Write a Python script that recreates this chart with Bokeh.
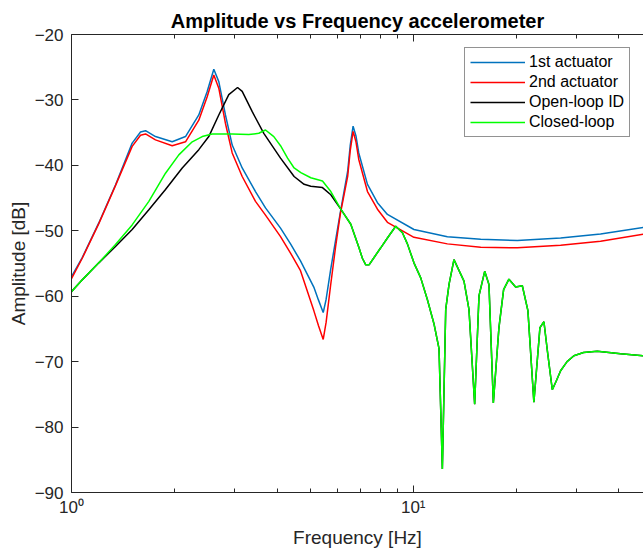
from bokeh.plotting import figure
from bokeh.models import FixedTicker, LogAxis, Legend, LegendItem
from bokeh.embed import file_html
from bokeh.resources import INLINE

# ---- data ----
freq_act = [1.0, 1.075, 1.202, 1.345, 1.505, 1.592, 1.647, 1.761, 1.971, 2.156,
            2.358, 2.495, 2.609, 2.698, 2.822, 2.953, 3.159, 3.455, 3.696, 4.09,
            4.375, 4.679, 5.118, 5.283, 5.453, 5.56, 5.73, 5.925, 6.12, 6.43,
            6.54, 6.669, 6.80, 6.929, 7.348, 7.859, 8.405, 10.05, 12.59, 15.76,
            20.17, 27.0, 35.34, 47.21, 50.0]
act1_db = [-57.0, -54.1, -48.8, -43.0, -36.6, -34.9, -34.7, -35.6, -36.4, -35.6,
           -32.3, -28.7, -25.3, -27.2, -32.3, -36.9, -40.4, -44.0, -46.5, -49.6,
           -52.0, -54.6, -58.6, -60.6, -62.5, -60.5, -56.0, -51.5, -47.2, -40.9,
           -37.0, -34.0, -35.5, -38.1, -42.9, -45.7, -47.5, -49.8, -50.9, -51.3,
           -51.5, -51.1, -50.5, -49.5, -49.3]
act2_db = [-57.3, -54.2, -48.9, -43.1, -37.1, -35.4, -35.2, -36.1, -37.0, -36.4,
           -33.1, -29.5, -26.2, -28.2, -33.6, -38.1, -41.7, -45.5, -47.6, -50.9,
           -53.4, -56.1, -62.2, -64.5, -66.6, -64.0, -58.4, -52.5, -47.4, -41.7,
           -37.8, -34.8, -36.4, -39.1, -44.0, -46.7, -48.7, -51.0, -52.0, -52.5,
           -52.6, -52.2, -51.6, -50.5, -50.3]

freq_ol = [1.0, 1.075, 1.202, 1.345, 1.505, 1.684, 1.884, 2.109, 2.358, 2.522,
           2.698, 2.886, 3.062, 3.159, 3.380, 3.654, 4.09, 4.482, 4.794, 5.015,
           5.426, 5.740, 6.138, 6.567, 6.94, 7.10, 7.264, 7.427, 7.70, 8.035,
           8.405, 8.887, 9.30, 9.616, 10.05, 10.52, 11.0, 11.50, 11.90, 12.17,
           12.45, 12.73, 13.16, 14.08, 14.56, 15.13, 15.58, 16.19, 16.66, 17.16,
           17.82, 18.39, 19.06, 19.94, 20.86, 21.66, 22.55, 23.49, 24.13, 24.69,
           25.53, 26.2, 27.0, 28.2, 29.53, 31.5, 34.56, 40.44, 47.21, 50.0]
ol_db = [-59.3, -57.5, -54.9, -52.4, -49.8, -46.8, -43.7, -40.4, -37.6, -35.6,
         -32.3, -29.2, -28.1, -28.7, -31.8, -35.1, -38.9, -41.7, -42.9, -43.2,
         -43.4, -44.5, -46.7, -49.0, -52.6, -54.2, -55.2, -55.2, -54.0, -52.6,
         -51.1, -49.3, -50.3, -52.0, -54.9, -57.2, -60.5, -64.2, -68.0, -86.4,
         -62.0, -58.2, -54.4, -57.7, -62.0, -76.5, -59.9, -56.2, -58.2, -76.3,
         -64.8, -59.0, -57.4, -58.6, -58.4, -62.2, -76.2, -64.8, -63.9, -68.3,
         -74.3, -73.0, -71.4, -70.0, -69.1, -68.6, -68.4, -68.8, -69.1, -69.2]

freq_cl_low = [1.0, 1.075, 1.202, 1.345, 1.505, 1.684, 1.884, 2.061, 2.256, 2.413,
               2.580, 2.953, 3.303, 3.533, 3.696, 3.909, 4.09, 4.289, 4.482, 4.69,
               5.015, 5.426, 5.740]
cl_low_db = [-59.3, -57.5, -54.9, -52.1, -49.1, -45.5, -41.2, -38.4, -36.4, -35.6,
             -35.2, -35.2, -35.3, -35.1, -34.6, -35.6, -37.0, -38.9, -40.4, -41.1,
             -41.9, -42.4, -44.0]
join_hz = 6.0  # above this frequency the closed-loop curve follows the open-loop ID
freq_cl = freq_cl_low + [f for f in freq_ol if f > join_hz]
cl_db = cl_low_db + [d for f, d in zip(freq_ol, ol_db) if f > join_hz]

series_names = ["1st actuator", "2nd actuator", "Open-loop ID", "Closed-loop"]
series_colors = ["#0072BD", "#FF0000", "#000000", "#00FF00"]

x_major = [1, 10]
x_minor = [2, 3, 4, 5, 6, 7, 8, 9, 20, 30, 40]
x_labels = {1: "10\u2070", 10: "10\u00b9"}
y_ticks = [-90, -80, -70, -60, -50, -40, -30, -20]

FONT = "Liberation Sans"
AX = "#262626"

p = figure(width=643, height=554, x_axis_type="log", x_range=(1, 47.2),
           y_range=(-90, -20), output_backend="svg", toolbar_location=None,
           min_border_left=71, min_border_right=0, min_border_top=34,
           min_border_bottom=62, title="Amplitude vs Frequency accelerometer")
p.outline_line_color = None
p.xgrid.visible = False
p.ygrid.visible = False
p.background_fill_color = "white"
p.border_fill_color = "white"

p.title.text_font = FONT
p.title.text_font_size = "20px"
p.title.text_font_style = "bold"
p.title.text_color = "#000000"
p.title.align = "center"
p.title.standoff = 6

xa = p.xaxis[0]
xa.ticker = FixedTicker(ticks=x_major, minor_ticks=x_minor)
xa.major_label_overrides = x_labels
xa.axis_label = "Frequency [Hz]"
ya = p.yaxis[0]
ya.ticker = FixedTicker(ticks=y_ticks)
ya.axis_label = "Amplitude [dB]"
for ax in (xa, ya):
    ax.axis_line_color = AX
    ax.major_tick_line_color = AX
    ax.minor_tick_line_color = AX
    ax.major_tick_in = 7
    ax.major_tick_out = 0
    ax.minor_tick_in = 4
    ax.minor_tick_out = 0
    ax.major_label_text_font = FONT
    ax.major_label_text_font_size = "17px"
    ax.major_label_text_color = AX
    ax.axis_label_text_font = FONT
    ax.axis_label_text_font_size = "19px"
    ax.axis_label_text_font_style = "normal"
    ax.axis_label_text_color = AX
xa.major_label_standoff = 5
xa.axis_label_standoff = 7
ya.major_label_standoff = 8
ya.axis_label_standoff = 3

top = LogAxis(ticker=FixedTicker(ticks=x_major, minor_ticks=x_minor),
              major_label_text_font_size="1px", major_label_text_alpha=0,
              major_label_standoff=0,
              axis_line_color=AX, major_tick_line_color=AX, minor_tick_line_color=AX,
              major_tick_in=7, major_tick_out=0, minor_tick_in=4, minor_tick_out=0)
p.add_layout(top, "above")

r1 = p.line(freq_act, act1_db, line_color=series_colors[0], line_width=1.5)
r2 = p.line(freq_act, act2_db, line_color=series_colors[1], line_width=1.5)
r3 = p.line(freq_ol, ol_db, line_color=series_colors[2], line_width=1.5)
r4 = p.line(freq_cl, cl_db, line_color=series_colors[3], line_width=1.5)

legend = Legend(items=[LegendItem(label=n, renderers=[r]) for n, r in
                       zip(series_names, [r1, r2, r3, r4])],
                location=(393, 355), label_text_font=FONT, label_text_font_size="16px",
                label_text_color="#000000", glyph_width=55, glyph_height=18,
                label_height=18, spacing=2, padding=5, margin=0, label_standoff=4,
                border_line_color=AX, border_line_width=1, background_fill_color="white",
                background_fill_alpha=1)
p.add_layout(legend, "center")

open("out.html", "w").write(file_html(p, INLINE))
